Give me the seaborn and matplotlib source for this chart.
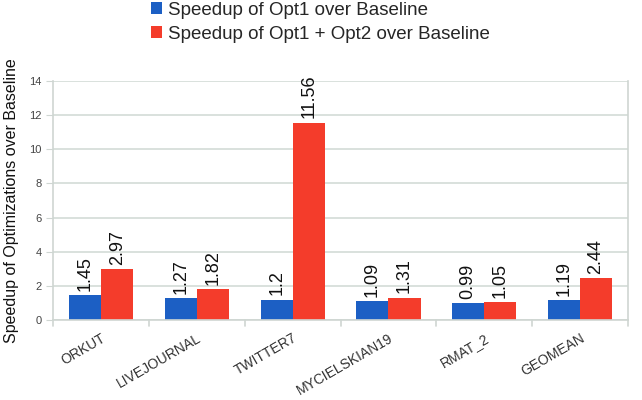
import matplotlib
matplotlib.use("Agg")
import matplotlib.pyplot as plt
import seaborn as sns
import pandas as pd

graphs = ["ORKUT", "LIVEJOURNAL", "TWITTER7", "MYCIELSKIAN19", "RMAT_2", "GEOMEAN"]
opt1 = [1.45, 1.27, 1.2, 1.09, 0.99, 1.19]
opt12 = [2.97, 1.82, 11.56, 1.31, 1.05, 2.44]
series = ["Speedup of Opt1 over Baseline", "Speedup of Opt1 + Opt2 over Baseline"]
yticks = [0, 2, 4, 6, 8, 10, 12, 14]

df = pd.DataFrame({
    "graph": graphs * 2,
    "speedup": opt1 + opt12,
    "series": [series[0]] * len(graphs) + [series[1]] * len(graphs),
})

sns.set_style("white")
plt.rcParams["font.family"] = ["Liberation Sans", "DejaVu Sans"]

fig = plt.figure(figsize=(6.42, 4.0), dpi=100)
ax = fig.add_axes([0.083, 0.2, 0.895, 0.5975])

sns.barplot(data=df, x="graph", y="speedup", hue="series",
            palette=["#1c5fc4", "#f43c2b"], width=0.67, saturation=1,
            edgecolor="none", ax=ax)

for cont in ax.containers:
    labels = [f"{v:g}" for v in cont.datavalues]
    ax.bar_label(cont, labels=labels, rotation=90, padding=3, fontsize=13, color="#111111")

ax.set_ylim(0, 14)
ax.set_yticks(yticks)
ax.set_xlim(-0.5, len(graphs) - 0.5)
ax.yaxis.grid(True, color="#d3dbd7", linewidth=1.2)
ax.set_axisbelow(True)
ax.spines["top"].set_visible(False)
for s in ["left", "bottom", "right"]:
    ax.spines[s].set_color("#cfd6d2")
    ax.spines[s].set_linewidth(1.2)

ax.tick_params(axis="y", labelsize=8, colors="#444444", length=5, color="#cfd6d2", left=True)
ax.set_xticks(range(len(graphs)))
ax.set_xticklabels(graphs, rotation=30, ha="right", rotation_mode="anchor", fontsize=10, color="#333333")
ax.tick_params(axis="x", length=0, pad=8)
# group separators on the x axis
for i in range(len(graphs) + 1):
    ax.plot([i - 0.5, i - 0.5], [0, -0.35], color="#cfd6d2", lw=1.2, clip_on=False)

ax.set_xlabel("")
ax.set_ylabel("Speedup of Optimizations over Baseline", fontsize=11.5, color="#111111")
ax.yaxis.set_label_coords(-0.06, 0.5)

handles, labs = ax.get_legend_handles_labels()
ax.legend_.remove()
fig.legend(handles, labs, loc="upper left", bbox_to_anchor=(0.235, 0.995), frameon=False,
           fontsize=13.5, handlelength=0.6, handleheight=0.6, handletextpad=0.3,
           labelspacing=0.35, borderaxespad=0, borderpad=0)

fig.savefig("out.png", dpi=100)
